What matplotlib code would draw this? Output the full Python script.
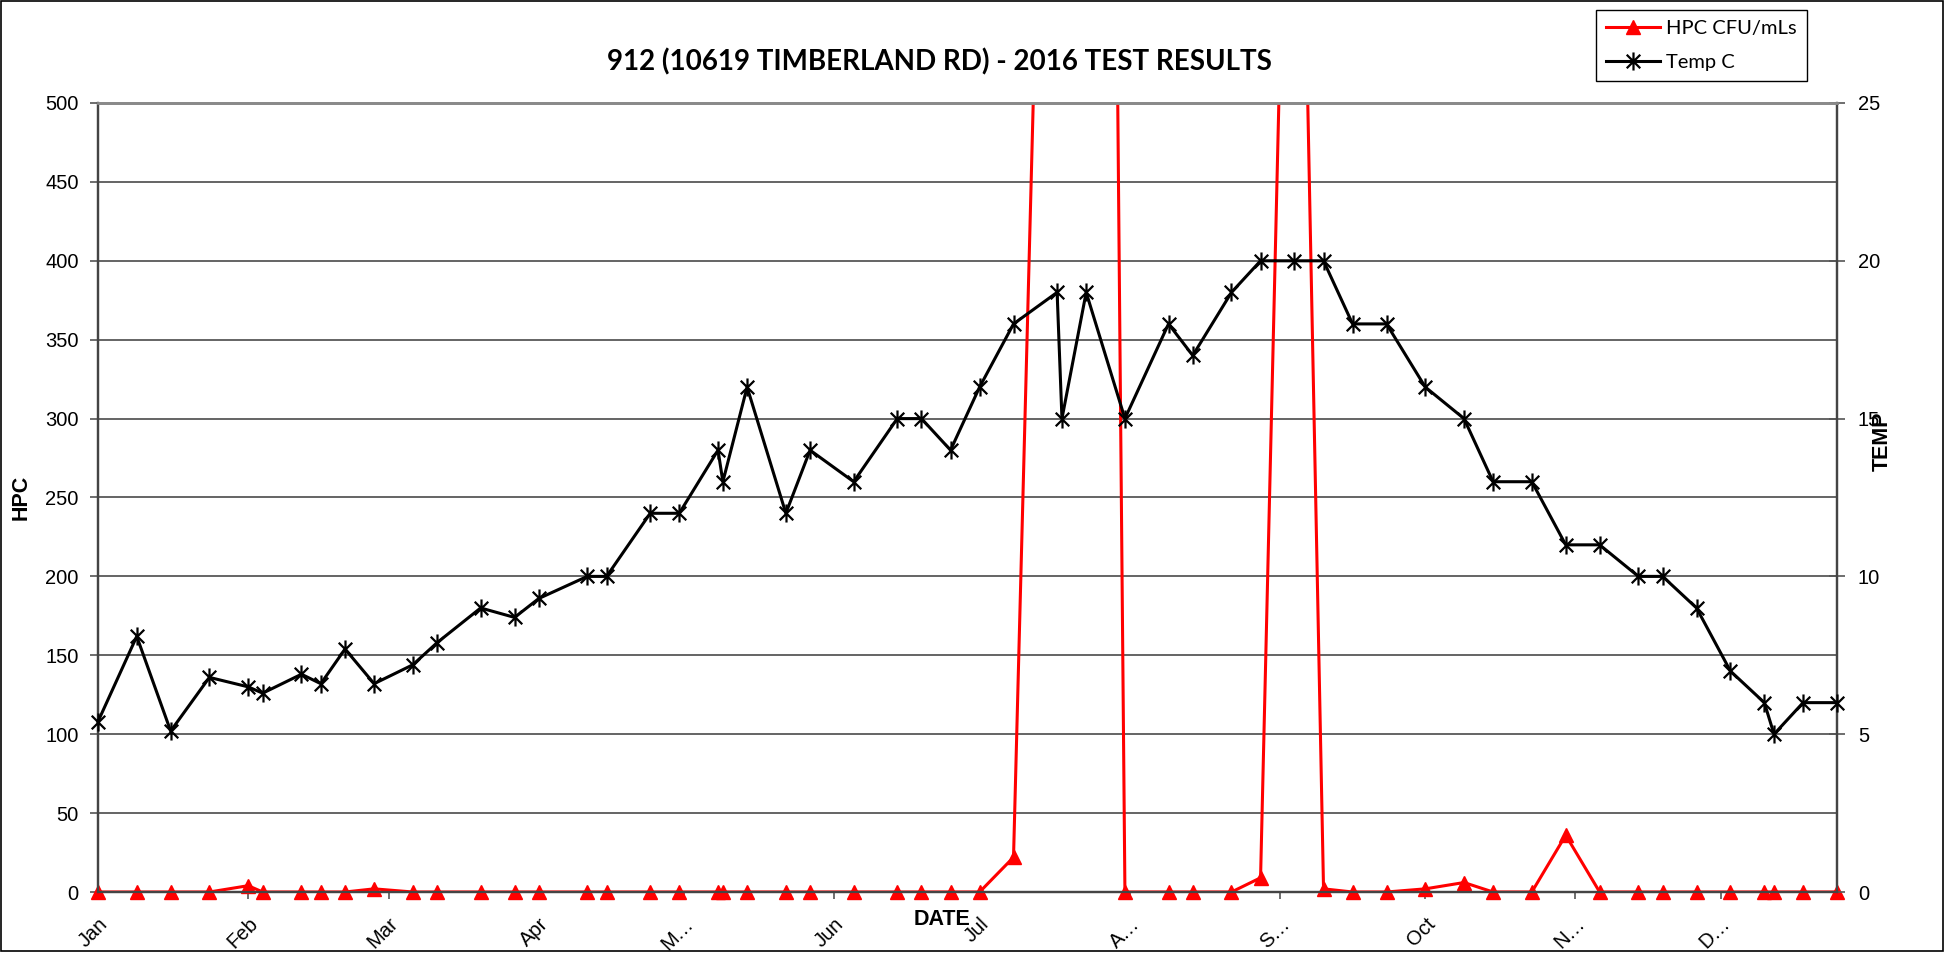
import numpy as np
import matplotlib
matplotlib.use('Agg')
import matplotlib.pyplot as plt
from matplotlib.lines import Line2D
from matplotlib.path import Path
from matplotlib.patches import Rectangle

# sampling dates for site 912, 2016
sample_dates = [
    '2016-01-01', '2016-01-09', '2016-01-16', '2016-01-24', '2016-02-01', '2016-02-04',
    '2016-02-12', '2016-02-16', '2016-02-21', '2016-02-27', '2016-03-06', '2016-03-11',
    '2016-03-20', '2016-03-27', '2016-04-01', '2016-04-11', '2016-04-15', '2016-04-24',
    '2016-04-30', '2016-05-08', '2016-05-09', '2016-05-14', '2016-05-22', '2016-05-27',
    '2016-06-05', '2016-06-14', '2016-06-19', '2016-06-25', '2016-07-01', '2016-07-08',
    '2016-07-17', '2016-07-18', '2016-07-23', '2016-07-31', '2016-08-09', '2016-08-14',
    '2016-08-22', '2016-08-28', '2016-09-04', '2016-09-10', '2016-09-16', '2016-09-23',
    '2016-10-01', '2016-10-09', '2016-10-15', '2016-10-23', '2016-10-30', '2016-11-06',
    '2016-11-14', '2016-11-19', '2016-11-26', '2016-12-03', '2016-12-10', '2016-12-12',
    '2016-12-18', '2016-12-25',
]

# heterotrophic plate count, CFU/mL
hpc = [
    0, 0, 0, 0, 4, 0,
    0, 0, 0, 2, 0, 0,
    0, 0, 0, 0, 0, 0,
    0, 0, 0, 0, 0, 0,
    0, 0, 0, 0, 0, 22,
    1080, 1200, 2700, 0, 0, 0,
    0, 9, 920, 2, 0, 0,
    2, 6, 0, 0, 36, 0,
    0, 0, 0, 0, 0, 0,
    0, 0,
]

# water temperature, deg C
temp_c = [
    5.4, 8.1, 5.1, 6.8, 6.5, 6.3,
    6.9, 6.6, 7.7, 6.6, 7.2, 7.9,
    9.0, 8.7, 9.3, 10, 10, 12,
    12, 14, 13, 16, 12, 14,
    13, 15, 15, 14, 16, 18,
    19, 15, 19, 15, 18, 17,
    19, 20, 20, 20, 18, 18,
    16, 15, 13, 13, 11, 11,
    10, 10, 9, 7, 6, 5,
    6, 6,
]

month_labels = ['Jan', 'Feb', 'Mar', 'Apr', 'M\u2026', 'Jun', 'Jul',
                'A\u2026', 'S\u2026', 'Oct', 'N\u2026', 'D\u2026']

dates = np.array(sample_dates, dtype='datetime64[D]')
hpc = np.array(hpc, dtype=float)
temp_c = np.array(temp_c, dtype=float)

W, H = 1950, 955
fig = plt.figure(figsize=(W / 100, H / 100), dpi=100)
fig.patch.set_facecolor('white')

x0, x1, ytop, ybot = 98, 1837, 103, 892
ax = fig.add_axes([x0 / W, 1 - ybot / H, (x1 - x0) / W, (ybot - ytop) / H])
ax2 = ax.twinx()

tick_font = dict(family='Liberation Sans', size=14.5)
red = '#ff0000'

# HPC: the line is clipped at the top, the markers on the zero line are not
ax.plot(dates, hpc, color=red, lw=2.2, zorder=3)
inside = hpc <= 500
ax.plot(dates[inside], hpc[inside], ls='none', marker='^', ms=10,
        color=red, mec=red, clip_on=False, zorder=4)

# temperature on the secondary axis
star = Path([(0, -1), (0, 1), (-0.75, -0.75), (0.75, 0.75), (-0.75, 0.75), (0.75, -0.75)],
            [Path.MOVETO, Path.LINETO, Path.MOVETO, Path.LINETO, Path.MOVETO, Path.LINETO])
ax2.plot(dates, temp_c, color='black', lw=2.2, marker=star, ms=13, mew=1.6,
         mec='black', clip_on=False, zorder=5)

ax.set_xlim(dates[0], dates[-1])
ax.set_ylim(0, 500)
ax2.set_ylim(0, 25)

ax.set_yticks(np.arange(0, 501, 50))
ax2.set_yticks(np.arange(0, 26, 5))
ax.yaxis.grid(True, color='#3a3a3a', lw=1.1)
ax.set_axisbelow(True)

month_starts = np.arange('2016-01', '2017-01', dtype='datetime64[M]').astype('datetime64[D]')
ax.set_xticks(month_starts)
ax.set_xticklabels(month_labels, rotation=45, ha='right', va='top',
                   rotation_mode='anchor', **tick_font)
for lab in ax.get_yticklabels() + ax2.get_yticklabels():
    lab.set_fontfamily('Liberation Sans')
    lab.set_fontsize(14.5)

ax.tick_params(axis='x', direction='out', length=5, width=1.2, color='#555555', pad=11)
ax.tick_params(axis='y', direction='out', length=6, width=1.2, color='#555555', pad=8)
ax2.tick_params(axis='y', direction='inout', length=12, width=1.2, color='#555555', pad=9)

for a in (ax, ax2):
    for side in ('left', 'right', 'bottom'):
        a.spines[side].set_color('#444444')
        a.spines[side].set_linewidth(1.6)
    a.spines['top'].set_color('#8a8a8a')
    a.spines['top'].set_linewidth(2)

bold = dict(family='Liberation Sans', weight='bold', size=15.5)
fig.text(939 / W, 1 - 62 / H, '912 (10619 TIMBERLAND RD) - 2016 TEST RESULTS',
         ha='center', va='center', family='Lato', weight='bold', size=20)
fig.text(21 / W, 1 - 497 / H, 'HPC', rotation=90, ha='center', va='center', **bold)
fig.text(1882 / W, 1 - 441 / H, 'TEMP', rotation=90, ha='center', va='center', **bold)
fig.text(942 / W, 1 - 919 / H, 'DATE', ha='center', va='center', **bold)

handles = [Line2D([], [], color=red, lw=2.2, marker='^', ms=10, mec=red),
           Line2D([], [], color='black', lw=2.2, marker=star, ms=13, mew=1.6, mec='black')]
leg = fig.legend(handles, ['HPC CFU/mLs', 'Temp C'], loc='upper left',
                 bbox_to_anchor=(1596 / W, 1 - 10 / H), frameon=True, fancybox=False,
                 edgecolor='black', framealpha=1, borderpad=0.5, handlelength=2.7,
                 handletextpad=0.3, labelspacing=0.85, borderaxespad=0,
                 prop=dict(family='Lato', size=14.5))
leg.get_frame().set_linewidth(1.0)

# chart border
fig.add_artist(Rectangle((1 / W, 1 - 951 / H), 1942 / W, 950 / H, transform=fig.transFigure,
                         fill=False, ec='black', lw=1.2))

fig.savefig('out.png', dpi=100, facecolor='white')
